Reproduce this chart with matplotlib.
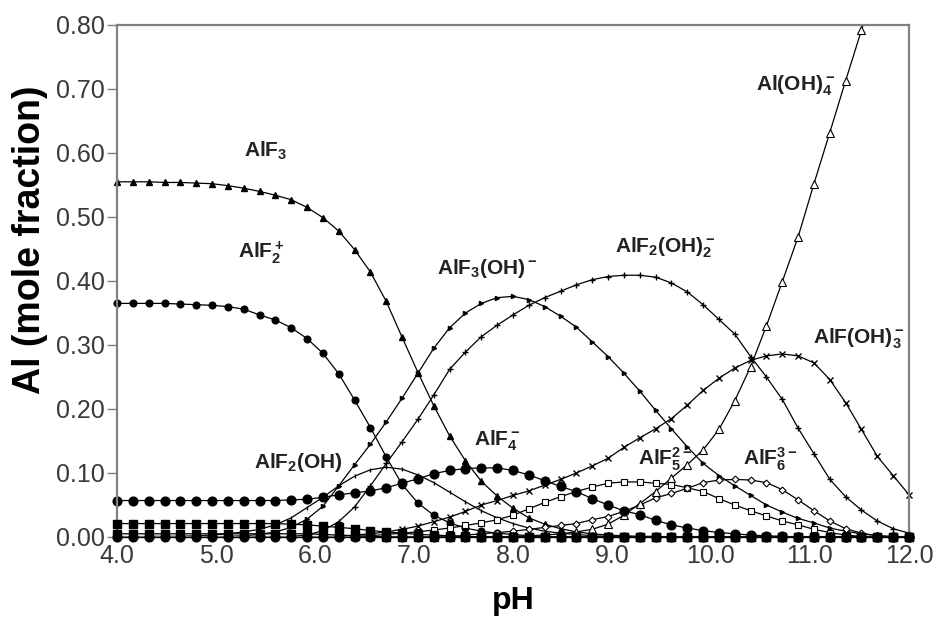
import matplotlib.pyplot as plt
import numpy as np

plt.rcParams['font.family'] = ['Liberation Sans', 'DejaVu Sans']
plt.rcParams['mathtext.default'] = 'regular'

# pH grid (~0.16 pH)
pH = [4.00, 4.16, 4.32, 4.48, 4.64, 4.80, 4.96, 5.12, 5.28, 5.44,
      5.60, 5.76, 5.92, 6.08, 6.24, 6.40, 6.56, 6.72, 6.88, 7.04,
      7.20, 7.36, 7.52, 7.68, 7.84, 8.00, 8.16, 8.32, 8.48, 8.64,
      8.80, 8.96, 9.12, 9.28, 9.44, 9.60, 9.76, 9.92, 10.08, 10.24,
      10.40, 10.56, 10.72, 10.88, 11.04, 11.20, 11.36, 11.52, 11.68, 11.84,
      12.00]

alf3 = [0.555, 0.555, 0.555, 0.554, 0.554, 0.553, 0.552, 0.549, 0.545, 0.540,
        0.534, 0.527, 0.515, 0.499, 0.478, 0.449, 0.414, 0.368, 0.312, 0.257,
        0.205, 0.158, 0.119, 0.087, 0.064, 0.045, 0.030, 0.020, 0.013, 0.008,
        0.005, 0.003, 0.002, 0.001, 0.001, 0, 0, 0, 0, 0,
        0, 0, 0, 0, 0, 0, 0, 0, 0, 0, 0]

alf2 = [0.365, 0.365, 0.365, 0.365, 0.364, 0.363, 0.362, 0.360, 0.356, 0.347,
        0.339, 0.327, 0.310, 0.287, 0.255, 0.214, 0.171, 0.125, 0.082, 0.053,
        0.034, 0.022, 0.014, 0.009, 0.006, 0.004, 0.002, 0.001, 0, 0,
        0, 0, 0, 0, 0, 0, 0, 0, 0, 0,
        0, 0, 0, 0, 0, 0, 0, 0, 0, 0, 0]

alf4 = [0.057, 0.057, 0.057, 0.057, 0.057, 0.057, 0.057, 0.057, 0.057, 0.057,
        0.057, 0.058, 0.059, 0.062, 0.066, 0.069, 0.072, 0.077, 0.084, 0.091,
        0.099, 0.104, 0.107, 0.108, 0.108, 0.104, 0.097, 0.088, 0.079, 0.071,
        0.060, 0.050, 0.041, 0.035, 0.026, 0.019, 0.014, 0.010, 0.007, 0.005,
        0.003, 0.002, 0.001, 0, 0, 0, 0, 0, 0, 0, 0]

alf2oh = [0.000, 0.000, 0.001, 0.001, 0.001, 0.002, 0.003, 0.005, 0.008, 0.012,
          0.019, 0.030, 0.046, 0.062, 0.080, 0.095, 0.105, 0.109, 0.106, 0.097,
          0.085, 0.070, 0.055, 0.041, 0.030, 0.021, 0.014, 0.009, 0.006, 0.004,
          0.002, 0.001, 0, 0, 0, 0, 0, 0, 0, 0,
          0, 0, 0, 0, 0, 0, 0, 0, 0, 0, 0]

alf3oh = [0, 0, 0, 0, 0, 0, 0, 0.001, 0.002, 0.004,
          0.008, 0.015, 0.028, 0.048, 0.080, 0.113, 0.145, 0.180, 0.217, 0.256,
          0.295, 0.327, 0.350, 0.365, 0.374, 0.376, 0.371, 0.360, 0.345, 0.328,
          0.305, 0.282, 0.256, 0.228, 0.198, 0.169, 0.141, 0.115, 0.096, 0.080,
          0.065, 0.050, 0.039, 0.029, 0.022, 0.014, 0.009, 0.005, 0.002, 0.001, 0.000]

alf2oh2 = [0, 0, 0, 0, 0, 0, 0, 0, 0, 0,
           0, 0.001, 0.003, 0.010, 0.024, 0.047, 0.080, 0.115, 0.149, 0.184,
           0.222, 0.262, 0.289, 0.313, 0.331, 0.347, 0.362, 0.374, 0.384, 0.394,
           0.402, 0.407, 0.409, 0.409, 0.406, 0.397, 0.383, 0.363, 0.340, 0.317,
           0.282, 0.250, 0.215, 0.170, 0.130, 0.090, 0.063, 0.042, 0.025, 0.013, 0.006]

alfoh3 = [0, 0, 0, 0, 0, 0, 0, 0, 0, 0,
          0, 0, 0, 0, 0.001, 0.003, 0.005, 0.008, 0.012, 0.017,
          0.024, 0.031, 0.040, 0.050, 0.057, 0.065, 0.072, 0.081, 0.090, 0.100,
          0.111, 0.123, 0.140, 0.155, 0.169, 0.185, 0.206, 0.229, 0.248, 0.264,
          0.276, 0.283, 0.286, 0.283, 0.272, 0.246, 0.210, 0.168, 0.126, 0.096, 0.066]

aloh4 = [0, 0, 0, 0, 0, 0, 0, 0, 0, 0,
         0, 0, 0, 0, 0, 0, 0, 0, 0, 0,
         0, 0, 0, 0, 0, 0.001, 0.002, 0.003, 0.005, 0.008,
         0.012, 0.020, 0.034, 0.052, 0.071, 0.092, 0.113, 0.136, 0.168, 0.213,
         0.266, 0.330, 0.399, 0.469, 0.552, 0.632, 0.713, 0.792, 0.870, np.nan, np.nan]

alf5 = [0, 0, 0, 0, 0, 0, 0, 0, 0, 0,
        0, 0, 0, 0, 0, 0, 0.002, 0.004, 0.006, 0.008,
        0.011, 0.014, 0.018, 0.022, 0.027, 0.034, 0.044, 0.054, 0.063, 0.071,
        0.078, 0.084, 0.086, 0.086, 0.084, 0.082, 0.077, 0.071, 0.060, 0.050,
        0.041, 0.033, 0.025, 0.019, 0.012, 0.007, 0.003, 0.001, 0, 0, 0]

alf6 = [0, 0, 0, 0, 0, 0, 0, 0, 0, 0,
        0, 0, 0, 0, 0, 0, 0, 0, 0, 0,
        0, 0, 0.003, 0.005, 0.007, 0.009, 0.012, 0.015, 0.018, 0.021,
        0.027, 0.032, 0.040, 0.050, 0.061, 0.068, 0.076, 0.085, 0.089, 0.090,
        0.089, 0.085, 0.074, 0.058, 0.041, 0.025, 0.013, 0.006, 0.002, 0, 0]

# minor species lying along the bottom of the chart
alf_ = [0.021, 0.021, 0.021, 0.021, 0.021, 0.021, 0.021, 0.021, 0.021, 0.021,
        0.021, 0.020, 0.019, 0.017, 0.015, 0.013, 0.010, 0.008, 0.006, 0.004,
        0.003, 0.002, 0.001, 0, 0, 0, 0, 0, 0, 0,
        0, 0, 0, 0, 0, 0, 0, 0, 0, 0,
        0, 0, 0, 0, 0, 0, 0, 0, 0, 0, 0]

al3 = [0.005, 0.005, 0.005, 0.005, 0.005, 0.005, 0.005, 0.005, 0.005, 0.005,
       0.005, 0.005, 0.005, 0.004, 0.003, 0.002, 0.001, 0, 0, 0,
       0, 0, 0, 0, 0, 0, 0, 0, 0, 0,
       0, 0, 0, 0, 0, 0, 0, 0, 0, 0,
       0, 0, 0, 0, 0, 0, 0, 0, 0, 0, 0]

free = [0] * len(pH)

fig = plt.figure(figsize=(9.38, 6.26), dpi=100)
ax = fig.add_axes([117 / 938, 89 / 626, 792 / 938, 512 / 626])

k = 'black'
lw = 0.9
ax.plot(pH, alf3, color=k, lw=lw, marker='^', ms=4.6, clip_on=False)
ax.plot(pH, alf2, color=k, lw=lw, marker='o', ms=4.8, clip_on=False)
ax.plot(pH, alf2oh, color=k, lw=lw, marker='|', ms=3, clip_on=False)
ax.plot(pH, alf3oh, color=k, lw=lw, marker='>', ms=3, clip_on=False)
ax.plot(pH, alf2oh2, color=k, lw=lw, marker='+', ms=5, clip_on=False)
ax.plot(pH, alfoh3, color=k, lw=lw, marker='x', ms=4.5, clip_on=False)
ax.plot(pH, alf5, color=k, lw=lw, marker='s', ms=4.5, mfc='white', mew=0.8, clip_on=False)
ax.plot(pH, alf6, color=k, lw=lw, marker='D', ms=3.5, mfc='white', mew=0.8, clip_on=False)
ax.plot(pH, aloh4, color=k, lw=lw, marker='^', ms=6, mfc='white', mew=0.8)
ax.plot(pH, alf4, color=k, lw=lw, marker='o', ms=6.3, clip_on=False)
# filled rows along the bottom go on top
ax.plot(pH, alf_, color=k, lw=lw, marker='s', ms=5.5, clip_on=False, zorder=3)
ax.plot(pH, al3, color=k, lw=lw, marker='s', ms=5.5, clip_on=False, zorder=3)
ax.plot(pH, free, color=k, lw=lw, marker='o', ms=6.3, clip_on=False, zorder=3)

# species labels
labels = [
    (5.50, 0.604, r'AlF$_3$'),
    (5.46, 0.444, r'AlF$_2^+$'),
    (7.74, 0.420, r'AlF$_3$(OH)$^-$'),
    (9.54, 0.452, r'AlF$_2$(OH)$_2^-$'),
    (11.49, 0.310, r'AlF(OH)$_3^-$'),
    (10.85, 0.705, r'Al(OH)$_4^-$'),
    (7.84, 0.151, r'AlF$_4^-$'),
    (9.54, 0.122, r'AlF$_5^{2-}$'),
    (10.60, 0.122, r'AlF$_6^{3-}$'),
    (5.83, 0.117, r'AlF$_2$(OH)'),
]
for x, y, s in labels:
    ax.text(x, y, s, ha='center', va='center', fontsize=15,
            fontweight='bold', color='#222222', zorder=4)

ax.set_xlim(4.0, 12.0)
ax.set_ylim(0, 0.8)
ax.set_xticks(np.arange(4, 12.01, 1.0))
ax.set_yticks(np.arange(0, 0.801, 0.1))
ax.set_xticklabels(['%.1f' % t for t in np.arange(4, 12.01, 1.0)])
ax.set_yticklabels(['%.2f' % t for t in np.arange(0, 0.801, 0.1)])
ax.tick_params(axis='y', direction='out', length=7, width=1, color='#808080',
               labelsize=18, labelcolor='#3a3a3a', pad=2)
ax.tick_params(axis='x', length=0, labelsize=18, labelcolor='#3a3a3a', pad=5)

for sp in ax.spines.values():
    sp.set_color('#808080')
    sp.set_linewidth(1.6)

ax.set_xlabel('pH', fontsize=23, fontweight='bold')
ax.set_ylabel('Al (mole fraction)', fontsize=27, fontweight='bold')
ax.xaxis.set_label_coords(0.5, -0.095)
ax.yaxis.set_label_coords(-0.087, 0.58)

fig.savefig('out.png', dpi=100)
